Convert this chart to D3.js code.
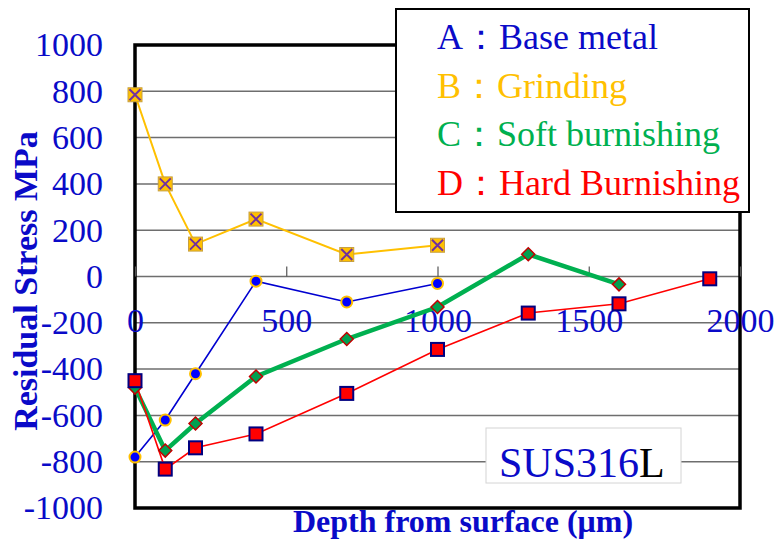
<!DOCTYPE html>
<html>
<head>
<meta charset="utf-8">
<script src="https://cdn.jsdelivr.net/npm/d3@7"></script>
<style>
  body { margin: 0; background: #fff; }
  svg { display: block; font-family: "Liberation Serif", "Times New Roman", serif; }
</style>
</head>
<body>
<svg id="chart" width="778" height="542"></svg>
<script>
// depth (um) and residual stress (MPa)
const depthA = [0, 100, 200, 400, 700, 1000];
const stressA = [-780, -620, -420, -20, -110, -30];

const depthB = [0, 100, 200, 400, 700, 1000];
const stressB = [785, 400, 140, 248, 95, 135];

const depthC = [0, 100, 200, 400, 700, 1000, 1300, 1600];
const stressC = [-480, -752, -635, -432, -270, -132, 96, -34];

const depthD = [0, 100, 200, 400, 700, 1000, 1300, 1600, 1900];
const stressD = [-450, -832, -740, -680, -505, -315, -158, -118, -10];

const xTicks = [0, 500, 1000, 1500, 2000];
const yTicks = [-1000, -800, -600, -400, -200, 0, 200, 400, 600, 800, 1000];
const legendLabels = ["A：Base metal", "B：Grinding", "C：Soft burnishing", "D：Hard Burnishing"];

const blueText = "#0a0ac8";
const serif = "Liberation Serif, Times New Roman, serif";

const svg = d3.select("#chart");

const x = d3.scaleLinear().domain([0, 2000]).range([135, 740]);
const y = d3.scaleLinear().domain([-1000, 1000]).range([508, 45]);

// grid
svg.append("g")
  .selectAll("line")
  .data(yTicks.filter(t => t > -1000 && t < 1000))
  .join("line")
  .attr("x1", x(0)).attr("x2", x(2000))
  .attr("y1", d => y(d)).attr("y2", d => y(d))
  .attr("stroke", "#6e6e6e")
  .attr("stroke-width", 1.5);

// plot frame
svg.append("rect")
  .attr("x", x(0)).attr("y", y(1000))
  .attr("width", x(2000) - x(0)).attr("height", y(-1000) - y(1000))
  .attr("fill", "none")
  .attr("stroke", "#000")
  .attr("stroke-width", 3.5);

// x axis sits on the zero line
const xAxis = d3.axisBottom(x)
  .tickValues(xTicks)
  .tickFormat(d => String(d))
  .tickSizeInner(-10)
  .tickSizeOuter(0)
  .tickPadding(31);

const gx = svg.append("g")
  .attr("transform", `translate(0, ${y(0)})`)
  .call(xAxis)
  .attr("font-family", serif);
gx.select(".domain").remove();
gx.selectAll(".tick line").attr("stroke", "#555").attr("stroke-width", 1.2);
gx.selectAll(".tick text")
  .attr("fill", blueText)
  .attr("font-size", 34);

const yAxis = d3.axisLeft(y)
  .tickValues(yTicks)
  .tickFormat(d => String(d))
  .tickSize(0)
  .tickPadding(32);

const gy = svg.append("g")
  .attr("transform", `translate(${x(0)}, 0)`)
  .call(yAxis)
  .attr("font-family", serif);
gy.select(".domain").remove();
gy.selectAll(".tick text")
  .attr("fill", blueText)
  .attr("font-size", 34);

// axis titles
svg.append("text")
  .attr("transform", `translate(37, 281) rotate(-90)`)
  .attr("text-anchor", "middle")
  .attr("font-size", 34)
  .attr("font-weight", "bold")
  .attr("fill", blueText)
  .text("Residual Stress MPa");

svg.append("text")
  .attr("x", 463).attr("y", 532)
  .attr("text-anchor", "middle")
  .attr("font-size", 32)
  .attr("font-weight", "bold")
  .attr("fill", blueText)
  .text("Depth from surface (μm)");

const line = d3.line().x(d => x(d[0])).y(d => y(d[1]));
const zip = (a, b) => a.map((v, i) => [v, b[i]]);

const ptsA = zip(depthA, stressA);
const ptsB = zip(depthB, stressB);
const ptsC = zip(depthC, stressC);
const ptsD = zip(depthD, stressD);

svg.append("path").datum(ptsB).attr("d", line)
  .attr("fill", "none").attr("stroke", "#ffc000").attr("stroke-width", 2);
svg.append("path").datum(ptsA).attr("d", line)
  .attr("fill", "none").attr("stroke", "#0000d0").attr("stroke-width", 1.6);
svg.append("path").datum(ptsC).attr("d", line)
  .attr("fill", "none").attr("stroke", "#00b050").attr("stroke-width", 4.5);
svg.append("path").datum(ptsD).attr("d", line)
  .attr("fill", "none").attr("stroke", "#ff0000").attr("stroke-width", 1.6);

// B markers: gold square with purple cross
const gB = svg.append("g").selectAll("g").data(ptsB).join("g")
  .attr("transform", d => `translate(${x(d[0])}, ${y(d[1])})`);
gB.append("rect")
  .attr("x", -7).attr("y", -7).attr("width", 14).attr("height", 14)
  .attr("fill", "#ffc000").attr("stroke", "#c8a040").attr("stroke-width", 1);
gB.append("path")
  .attr("d", "M-5.5,-5.5L5.5,5.5M5.5,-5.5L-5.5,5.5")
  .attr("stroke", "#7030a0").attr("stroke-width", 2);

// A markers
svg.append("g").selectAll("circle").data(ptsA).join("circle")
  .attr("cx", d => x(d[0])).attr("cy", d => y(d[1]))
  .attr("r", 5.5)
  .attr("fill", "#0000ff").attr("stroke", "#ffc000").attr("stroke-width", 2);

// C markers: diamonds
svg.append("g").selectAll("path").data(ptsC).join("path")
  .attr("transform", d => `translate(${x(d[0])}, ${y(d[1])})`)
  .attr("d", "M0,-6.5L6.5,0L0,6.5L-6.5,0Z")
  .attr("fill", "#00a050").attr("stroke", "#c00000").attr("stroke-width", 1.5);

// D markers
svg.append("g").selectAll("rect").data(ptsD).join("rect")
  .attr("x", d => x(d[0]) - 6.5).attr("y", d => y(d[1]) - 6.5)
  .attr("width", 13).attr("height", 13)
  .attr("fill", "#ff0000").attr("stroke", "#000080").attr("stroke-width", 2);

// legend
const legendColors = ["#0a0ac8", "#ffc000", "#00b050", "#ff0000"];
svg.append("rect")
  .attr("x", 396).attr("y", 9).attr("width", 353).attr("height", 203)
  .attr("fill", "#fff").attr("stroke", "#000").attr("stroke-width", 2);
svg.append("g").selectAll("text").data(legendLabels).join("text")
  .attr("x", 437)
  .attr("y", (d, i) => 49 + i * 48.7)
  .attr("font-size", 36)
  .attr("fill", (d, i) => legendColors[i])
  .text(d => d);

// material label
svg.append("rect")
  .attr("x", 486).attr("y", 428).attr("width", 195).attr("height", 55)
  .attr("fill", "#fff").attr("stroke", "#d4d4d4").attr("stroke-width", 1);
const mat = svg.append("text")
  .attr("x", 499).attr("y", 477)
  .attr("font-size", 42)
  .attr("fill", blueText);
mat.append("tspan").text("SUS316");
mat.append("tspan").attr("fill", "#000").text("L");
</script>
</body>
</html>
